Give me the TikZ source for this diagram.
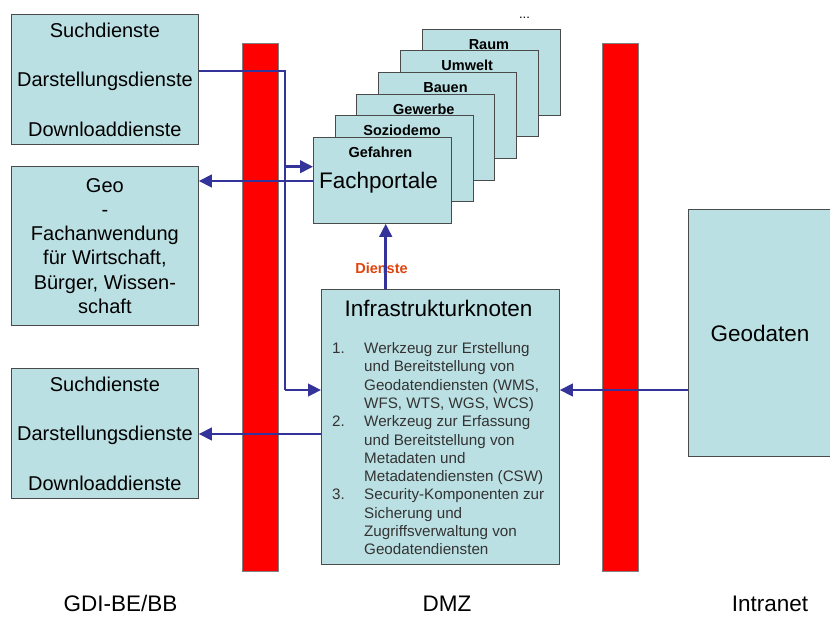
\documentclass[tikz,border=0pt]{standalone}
\usepackage{fontspec}
\setmainfont{Liberation Sans}
\usetikzlibrary{arrows.meta}
\definecolor{boxfill}{HTML}{BBE0E3}
\definecolor{boxline}{HTML}{4A4A4A}
\definecolor{connblue}{HTML}{333399}
\definecolor{dienstred}{HTML}{E0440E}
\definecolor{listgray}{HTML}{333333}
\begin{document}
\begin{tikzpicture}[x=1pt,y=-1pt,
  box/.style={draw=boxline, fill=boxfill, line width=0.8pt, inner sep=0pt, anchor=north west},
  bar/.style={draw=gray, fill=red, line width=0.5pt, inner sep=0pt, anchor=north west, minimum width=36pt, minimum height=528pt},
  conn/.style={draw=connblue, line width=2.6pt},
  arr/.style={conn, -{Triangle[length=13pt,width=12.5pt]}},
  lbl/.style={font=\fontsize{14.5}{16}\selectfont\bfseries, anchor=base, inner sep=0pt},
  big/.style={font=\fontsize{22.5}{26}\selectfont, anchor=base, inner sep=0pt},
  stack/.style={box, minimum width=138pt, minimum height=86pt},
  ]
\clip (0,0) rectangle (830,616);
\fill[white] (0,0) rectangle (830,616);

% red bars
\node[bar] (bar1) at (242,43) {};
\node[bar] (bar2) at (602,43) {};

% left boxes
\node[box, minimum width=187pt, minimum height=130pt, align=center,
      font=\fontsize{20}{49.5}\selectfont] (sd1) at (11,14)
      {Suchdienste\\Darstellungsdienste\\Downloaddienste};
\node[box, minimum width=187pt, minimum height=159pt, align=center,
      font=\fontsize{20}{24.3}\selectfont] (geo) at (11,166)
      {Geo\\-\\Fachanwendung\\f\"ur Wirtschaft,\\B\"urger, Wissen-\\schaft};
\node[box, minimum width=187pt, minimum height=130pt, align=center,
      font=\fontsize{20}{49.5}\selectfont] (sd2) at (11,368)
      {Suchdienste\\Darstellungsdienste\\Downloaddienste};

% Geodaten (its right side runs off the picture)
\node[box, minimum width=148pt, minimum height=247pt] (gd) at (688,209) {};
\node[big] (gdtext) at (760,341) {Geodaten};

% Fachportale stack
\node[stack] (fp5) at (421.5,28.5) {};
\node[lbl] (l5) at ([xshift=-2pt,yshift=-20.5pt]fp5.north) {Raum};
\node[stack] (fp4) at (399.8,50.2) {};
\node[lbl] (l4) at ([xshift=-2pt,yshift=-20.5pt]fp4.north) {Umwelt};
\node[stack] (fp3) at (378.1,71.9) {};
\node[lbl] (l3) at ([xshift=-2pt,yshift=-20.5pt]fp3.north) {Bauen};
\node[stack] (fp2) at (356.4,93.6) {};
\node[lbl] (l2) at ([xshift=-2pt,yshift=-20.5pt]fp2.north) {Gewerbe};
\node[stack] (fp1) at (334.7,115.3) {};
\node[lbl] (l1) at ([xshift=-2pt,yshift=-20.5pt]fp1.north) {Soziodemo};
\node[stack] (fp0) at (313,137) {};
\node[lbl] (l0) at ([xshift=-2pt,yshift=-20.5pt]fp0.north) {Gefahren};
\node[big] (fptitle) at (378.5,188.3) {Fachportale};
\node[anchor=base, inner sep=0pt, font=\fontsize{13}{15}\selectfont] (dots) at (524.5,18) {...};

% Infrastrukturknoten
\node[box, minimum width=238pt, minimum height=275pt] (ik) at (321,289) {};
\node[big] (iktitle) at (438.5,316) {Infrastrukturknoten};
\node[anchor=north west, inner sep=0pt, text=listgray,
      font=\fontsize{15.2}{18.3}\selectfont] (iklist) at (332,340.5) {%
  \begin{tabular}{@{}p{32pt}@{}l@{}}
  1. & Werkzeug zur Erstellung\\
     & und Bereitstellung von\\
     & Geodatendiensten (WMS,\\
     & WFS, WTS, WGS, WCS)\\
  2. & Werkzeug zur Erfassung\\
     & und Bereitstellung von\\
     & Metadaten und\\
     & Metadatendiensten (CSW)\\
  3. & Security-Komponenten zur\\
     & Sicherung und\\
     & Zugriffsverwaltung von\\
     & Geodatendiensten
  \end{tabular}};

\node[lbl, text=dienstred] (dienste) at (381.5,273) {Dienste};

% bottom labels
\node[big] (zone1) at (120.5,611) {GDI-BE/BB};
\node[big] (zone2) at (447,611) {DMZ};
\node[big] (zone3) at (770,611) {Intranet};

% connectors
\coordinate (j1) at (285,71);
\coordinate (j2) at (285,166.7);
\coordinate (j3) at (285,390);
\coordinate (ya) at (250,181);
\coordinate (yb) at (250,434);
\coordinate (xa) at (385.7,250);
\draw[conn] (sd1.east |- j1) -- (j1) -- (j3);
\draw[arr] (j3) -- (ik.west |- j3);
\draw[arr] (j2) -- (fp0.west |- j2);
\draw[arr] (fp0.west |- ya) -- (geo.east |- ya);
\draw[arr] (ik.west |- yb) -- (sd2.east |- yb);
\draw[arr] (gd.west |- j3) -- (ik.east |- j3);
\draw[arr] (ik.north -| xa) -- (fp0.south -| xa);
\end{tikzpicture}
\end{document}
